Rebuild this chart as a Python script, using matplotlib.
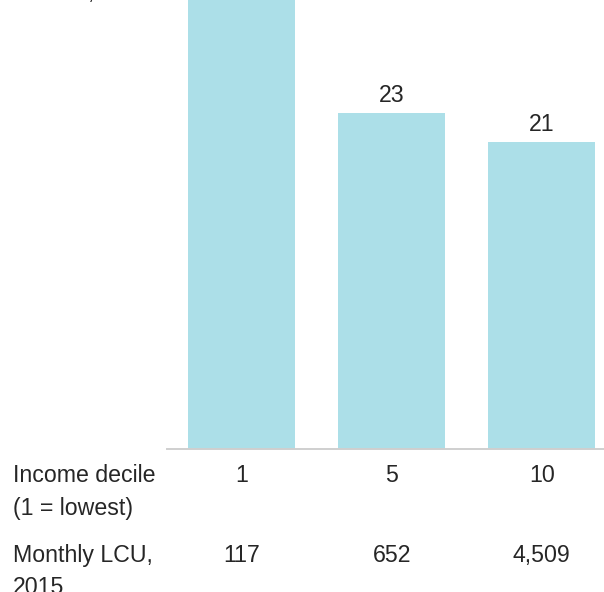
import matplotlib
matplotlib.use("Agg")
import matplotlib.pyplot as plt
import matplotlib.transforms as mtransforms

plt.rcParams['font.family'] = ['Liberation Sans', 'DejaVu Sans']

# Data
deciles = ['1', '5', '10']
share_values = [37, 23, 21]          # first bar runs past the top of the crop
monthly_lcu = ['117', '652', '4,509']
value_labels = ['37', '23', '21']

W, H, DPI = 604, 592, 100
fig = plt.figure(figsize=(W / DPI, H / DPI), dpi=DPI)

BAR = '#acdfe8'
TXT = '#262626'
FS = 16.7

# axes: left at px 166.7, baseline at px 449 from top; extends past right/top
x0_px, base_px = 166.7, 449
px_per_unit_x = 150.0
px_per_unit_y = 14.62
xmin, xmax = -0.5, 2.5
ax_w_px = (xmax - xmin) * px_per_unit_x
ymax = 449 / px_per_unit_y
ax = fig.add_axes([x0_px / W, (H - base_px) / H, ax_w_px / W, base_px / H])

xs = list(range(len(deciles)))
ax.bar(xs, share_values, width=0.713, color=BAR, zorder=2)
ax.set_xlim(xmin, xmax)
ax.set_ylim(0, ymax)

for s in ['top', 'right', 'left']:
    ax.spines[s].set_visible(False)
ax.spines['bottom'].set_color('#cfcfcf')
ax.spines['bottom'].set_linewidth(1.4)
ax.set_yticks([])
ax.set_xticks(xs)
ax.set_xticklabels([])
ax.tick_params(axis='x', length=0)
ax.patch.set_visible(False)

for x, v, lab in zip(xs, share_values, value_labels):
    ax.annotate(lab, xy=(x, v), xytext=(0, 8), textcoords='offset points',
                ha='center', va='baseline', fontsize=FS, color=TXT,
                annotation_clip=False)

# category rows under the axis
blend = mtransforms.blended_transform_factory(ax.transData, fig.transFigure)
for x, d, m in zip(xs, deciles, monthly_lcu):
    ax.text(x, 1 - 482 / H, d, transform=blend, ha='center', va='baseline',
            fontsize=FS, color=TXT)
    ax.text(x, 1 - 562 / H, m, transform=blend, ha='center', va='baseline',
            fontsize=FS, color=TXT)

# row headers
kw = dict(ha='left', va='baseline', fontsize=FS, color=TXT)
fig.text(13 / W, 1 - 482 / H, 'Income decile', **kw)
fig.text(13 / W, 1 - 515.5 / H, '(1 = lowest)', **kw)
fig.text(13 / W, 1 - 562 / H, 'Monthly LCU,', **kw)
fig.text(13 / W, 1 - 594 / H, '2015', **kw)

# tail of the cropped title line
fig.text(88 / W, 1 + 1 / H, ',', **kw)

fig.savefig('out.png', dpi=DPI)
